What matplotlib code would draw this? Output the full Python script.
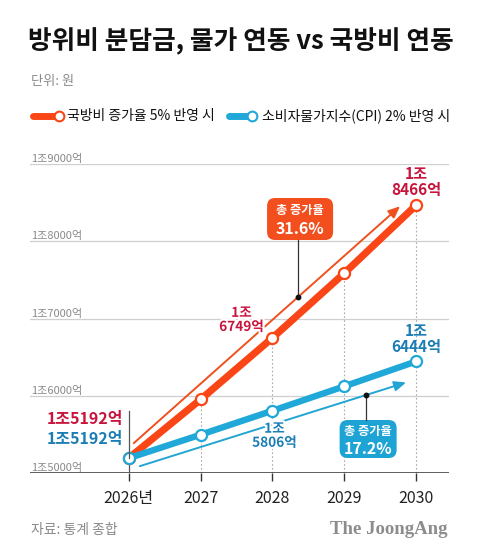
import matplotlib
matplotlib.use("Agg")
import matplotlib.pyplot as plt
from matplotlib.patches import FancyBboxPatch
from matplotlib.lines import Line2D
import matplotlib.patheffects as pe
import numpy as np

plt.rcParams['font.family'] = ['Noto Sans CJK KR', 'DejaVu Sans']

# ---- data (unit: 억 원) ----
years = [2026, 2027, 2028, 2029, 2030]
year_labels = ['2026년', '2027', '2028', '2029', '2030']
defense_5pct = [15192, 15952, 16749, 17586, 18466]
cpi_2pct = [15192, 15496, 15806, 16122, 16444]
yticks = [15000, 16000, 17000, 18000, 19000]
ytick_labels = ['1조5000억', '1조6000억', '1조7000억', '1조8000억', '1조9000억']
total_growth = ['31.6%', '17.2%']

RED = '#FA4616'
BLUE = '#1FA8D8'
RED_TXT = '#C8143C'
BLUE_TXT = '#1A7DB4'
GRAY = '#8a8a8a'

W, H = 480, 559
fig = plt.figure(figsize=(W / 100, H / 100), dpi=100)

def fx(px):
    return px / W

def fy(py):
    return 1 - py / H

ax = fig.add_axes([fx(30), fy(473), fx(449) - fx(30), fy(164) - fy(473)])
ax.set_xlim(years[0] - 99 / 72, years[-1] + 33 / 72)
ax.set_ylim(yticks[0], yticks[-1])
for s in ax.spines.values():
    s.set_visible(False)
ax.set_yticks([])
ax.set_xticks(years)
ax.set_xticklabels(year_labels, fontsize=11.5, color='#222222')
ax.tick_params(axis='x', length=6, width=1, color='#333333', pad=6)

# gridlines + labels
for v, lab in zip(yticks, ytick_labels):
    if v == yticks[0]:
        ax.axhline(v, color='#333333', lw=1.1, zorder=2)
    else:
        ax.axhline(v, color='#cfcfcf', lw=0.9, zorder=1)
    ax.text(0.003, v, lab, transform=ax.get_yaxis_transform(), ha='left', va='bottom',
            fontsize=8, color=GRAY)

# vertical dotted guides
for x, yr, yb in zip(years[1:], defense_5pct[1:], cpi_2pct[1:]):
    ax.plot([x, x], [yticks[0], max(yr, yb)], ls=(0, (1.5, 2)), color='#aaaaaa', lw=0.8, zorder=1)

# leader line at first year
ax.plot([years[0], years[0]], [yticks[0], defense_5pct[0]], color='#555555', lw=0.9, zorder=2)
p0 = ax.transData.transform((years[0], defense_5pct[0]))
fig.add_artist(Line2D([p0[0] / W, p0[0] / W], [p0[1] / H, (p0[1] + 47) / H],
                      transform=fig.transFigure, color='#555555', lw=0.9))

# main lines
ax.plot(years, defense_5pct, color=RED, lw=5.2, solid_capstyle='butt', zorder=4,
        marker='o', ms=8, mfc='white', mec=RED, mew=1.6)
ax.plot(years, cpi_2pct, color=BLUE, lw=4.6, solid_capstyle='butt', zorder=4,
        marker='o', ms=8, mfc='white', mec=BLUE, mew=1.6)

# thin arrows
def arrow(series, color, s_off, e_off):
    xs = ax.transData.transform((years[0], series[0])) + np.array(s_off)
    xe = ax.transData.transform((years[-1], series[-1])) + np.array(e_off)
    ax.annotate('', xy=xe, xycoords='figure pixels', xytext=xs, textcoords='figure pixels',
                arrowprops=dict(arrowstyle='-|>,head_length=0.7,head_width=0.3', color=color,
                                lw=1.4, shrinkA=0, shrinkB=0), zorder=3)
    return xs, xe

rs, re_ = arrow(defense_5pct, '#EE501E', (5, 15), (-16, -1))
bs, be = arrow(cpi_2pct, '#22A5D2', (11, -8), (-10, -21))

# growth boxes
def growth_box(s, e, frac, dy, w, h, color, pct):
    d = s + (e - s) * frac
    fig.add_artist(Line2D([d[0] / W, d[0] / W], [d[1] / H, (d[1] + dy - np.sign(dy) * h / 2) / H],
                          transform=fig.transFigure, color='#333333', lw=0.9))
    fig.add_artist(Line2D([d[0] / W], [d[1] / H], transform=fig.transFigure, marker='o', ms=3.2,
                          color='#111111'))
    cx, cy = d[0] + 2, d[1] + dy
    box = FancyBboxPatch(((cx - w / 2) / 100, (cy - h / 2) / 100), w / 100, h / 100,
                         boxstyle='round,pad=0,rounding_size=0.08', transform=fig.dpi_scale_trans,
                         fc=color, ec='none')
    fig.add_artist(box)
    fig.text(cx / W, (cy + 8) / H, '총 증가율', ha='center', va='center', fontsize=8.8,
             color='white', fontweight='bold')
    fig.text(cx / W, (cy - 10) / H, pct, ha='center', va='center', fontsize=11.5,
             color='white', fontweight='bold')

growth_box(rs, re_, 0.617, 78, 66, 42, '#F24E1E', total_growth[0])
growth_box(bs, be, 0.85, -44, 57, 38, '#1DA3D4', total_growth[1])

# value labels
halo = [pe.withStroke(linewidth=3, foreground='white')]

def fmt(v, split):
    jo, eok = divmod(v, 10000)
    return f'{jo}조\n{eok}억' if split else f'{jo}조{eok}억'

ax.annotate(fmt(defense_5pct[-1], True), (years[-1], defense_5pct[-1]), xytext=(0, 7),
            textcoords='offset pixels', ha='center', va='bottom', fontsize=11, fontweight='bold',
            color=RED_TXT, linespacing=1.0, zorder=6)
ax.annotate(fmt(cpi_2pct[-1], True), (years[-1], cpi_2pct[-1]), xytext=(0, 6),
            textcoords='offset pixels', ha='center', va='bottom', fontsize=11, fontweight='bold',
            color=BLUE_TXT, linespacing=1.0, zorder=6)
ax.annotate(fmt(defense_5pct[2], True), (years[2], defense_5pct[2]), xytext=(-31, 18),
            textcoords='offset pixels', ha='center', va='center', fontsize=9.8, fontweight='bold',
            color=RED_TXT, linespacing=1.0, zorder=6, path_effects=halo)
ax.annotate(fmt(cpi_2pct[2], True), (years[2], cpi_2pct[2]), xytext=(2, -25),
            textcoords='offset pixels', ha='center', va='center', fontsize=9.8, fontweight='bold',
            color=BLUE_TXT, linespacing=1.0, zorder=6, path_effects=halo)
ax.annotate(fmt(defense_5pct[0], False), (years[0], defense_5pct[0]), xytext=(-6, 39),
            textcoords='offset pixels', ha='right', va='center', fontsize=11.5, fontweight='bold',
            color=RED_TXT, zorder=6)
ax.annotate(fmt(cpi_2pct[0], False), (years[0], cpi_2pct[0]), xytext=(-6, 19),
            textcoords='offset pixels', ha='right', va='center', fontsize=11.5, fontweight='bold',
            color=BLUE_TXT, zorder=6)

# title and header
fig.text(fx(241), fy(42), '방위비 분담금, 물가 연동 vs 국방비 연동', ha='center', va='center',
         fontsize=18.5, fontweight='bold', color='#111111')
fig.text(fx(31), fy(82), '단위: 원', ha='left', va='center', fontsize=9.5, color=GRAY)

# legend
for x0, x1, col, txt, tx in [(33, 57, RED, '국방비 증가율 5% 반영 시', 67),
                             (229, 250, BLUE, '소비자물가지수(CPI) 2% 반영 시', 262)]:
    fig.add_artist(Line2D([fx(x0), fx(x1)], [fy(116), fy(116)], transform=fig.transFigure,
                          color=col, lw=5, solid_capstyle='round'))
    fig.add_artist(Line2D([fx(x1 + 2)], [fy(116)], transform=fig.transFigure, marker='o', ms=7,
                          mfc='white', mec=col, mew=1.5))
    fig.text(fx(tx), fy(116), txt, ha='left', va='center', fontsize=10, color='#111111')

# footer
fig.text(fx(31), fy(530), '자료: 통계 종합', ha='left', va='center', fontsize=10, color=GRAY)
fig.text(fx(448), fy(530), 'The JoongAng', ha='right', va='center', fontsize=13.5,
         fontweight='bold', family='Liberation Serif', color='#8c8c8c')

fig.savefig('out.png', dpi=100, facecolor='white')
